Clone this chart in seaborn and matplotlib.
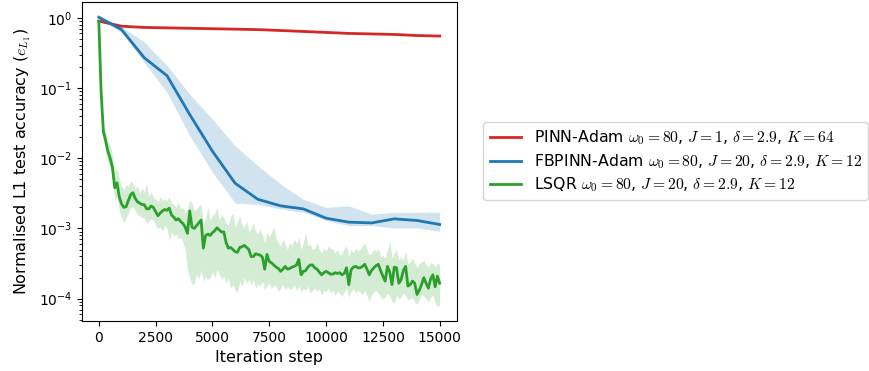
import numpy as np
import matplotlib
matplotlib.use("Agg")
import matplotlib.pyplot as plt
import seaborn as sns

# Iteration steps
coarse_steps = list(range(0, 15001, 1000))
fine_steps = list(range(0, 15001, 100))

# PINN-Adam (mean only, band is negligible)
pinn_mean = [0.90, 0.76, 0.73, 0.72, 0.71, 0.70, 0.69, 0.68, 0.66, 0.64,
             0.62, 0.60, 0.59, 0.58, 0.56, 0.55]

# FBPINN-Adam mean and min/max band
fbpinn_mean = [1.02, 0.68, 0.27, 0.15, 0.042, 0.0126, 0.0044, 0.0026, 0.0021, 0.0019,
               0.0014, 0.00123, 0.0012, 0.00137, 0.0013, 0.00114]
fbpinn_upper = [1.05, 0.75, 0.45, 0.21, 0.082, 0.036, 0.015, 0.0078, 0.0043, 0.0026,
                0.0020, 0.0021, 0.0016, 0.0017, 0.0017, 0.0017]
fbpinn_lower = [0.98, 0.62, 0.23, 0.087, 0.021, 0.0063, 0.0023, 0.0022, 0.0019, 0.0017,
                0.0013, 0.0011, 0.0011, 0.00102, 0.00102, 0.00091]

# LSQR (log10 values, every 100 steps)
lsqr_log_mean = [
    -0.05, -1.05, -1.62, -1.75, -1.90, -2.00, -2.13, -2.42, -2.35, -2.55,
    -2.65, -2.70, -2.69, -2.60, -2.52, -2.49, -2.57, -2.62, -2.64, -2.66,
    -2.66, -2.72, -2.72, -2.68, -2.70, -2.76, -2.82, -2.78, -2.75, -2.73,
    -2.74, -2.71, -2.81, -2.84, -2.88, -2.86, -2.90, -2.93, -2.98, -3.07,
    -2.75, -2.98, -3.00, -2.96, -2.92, -2.88, -3.28, -3.10, -3.08, -3.10,
    -3.06, -3.03, -2.99, -3.02, -3.05, -3.05, -3.20, -3.28, -3.27, -3.30,
    -3.33, -3.34, -3.27, -3.26, -3.24, -3.27, -3.30, -3.40, -3.40, -3.36,
    -3.37, -3.38, -3.41, -3.58, -3.37, -3.47, -3.49, -3.52, -3.55, -3.57,
    -3.61, -3.58, -3.54, -3.58, -3.57, -3.55, -3.54, -3.52, -3.44, -3.66,
    -3.61, -3.60, -3.55, -3.52, -3.52, -3.56, -3.58, -3.62, -3.66, -3.63,
    -3.61, -3.63, -3.65, -3.65, -3.63, -3.64, -3.63, -3.66, -3.64, -3.56,
    -3.80, -3.59, -3.55, -3.54, -3.56, -3.56, -3.54, -3.51, -3.58, -3.66,
    -3.60, -3.56, -3.53, -3.51, -3.60, -3.68, -3.75, -3.54, -3.62, -3.80,
    -3.55, -3.56, -3.78, -3.73, -3.60, -3.54, -3.82, -3.80, -3.75, -3.78,
    -3.94, -3.88, -3.80, -3.70, -3.78, -3.85, -3.72, -3.66, -3.83, -3.68,
    -3.78]
lsqr_log_upper = [
    -0.04, -0.95, -1.50, -1.62, -1.75, -1.82, -1.95, -2.20, -2.15, -2.30,
    -2.40, -2.45, -2.38, -2.40, -2.32, -2.36, -2.45, -2.38, -2.50, -2.42,
    -2.48, -2.36, -2.55, -2.48, -2.56, -2.58, -2.62, -2.55, -2.60, -2.58,
    -2.60, -2.55, -2.63, -2.66, -2.70, -2.62, -2.72, -2.70, -2.78, -2.72,
    -2.60, -2.63, -2.75, -2.72, -2.68, -2.66, -2.95, -2.85, -2.70, -2.88,
    -2.82, -2.78, -2.70, -2.88, -2.80, -2.85, -2.92, -2.95, -2.82, -2.78,
    -2.98, -2.90, -2.82, -2.95, -2.98, -2.90, -3.05, -3.00, -2.92, -3.05,
    -3.08, -3.00, -3.10, -3.20, -3.05, -3.12, -3.05, -2.97, -3.15, -3.20,
    -3.25, -3.15, -3.22, -3.30, -3.20, -3.25, -3.15, -3.22, -3.12, -3.30,
    -3.20, -3.06, -3.25, -3.22, -3.30, -3.28, -3.20, -3.30, -3.35, -3.28,
    -3.32, -3.25, -3.28, -3.30, -3.35, -3.30, -3.38, -3.35, -3.28, -3.25,
    -3.40, -3.30, -3.35, -3.28, -3.32, -3.30, -3.25, -3.20, -3.30, -3.38,
    -3.35, -3.30, -3.32, -3.28, -3.40, -3.38, -3.42, -3.30, -3.18, -3.42,
    -3.35, -3.30, -3.45, -3.40, -3.45, -3.32, -3.50, -3.48, -3.42, -3.50,
    -3.55, -3.50, -3.48, -3.45, -3.52, -3.55, -3.48, -3.50, -3.55, -3.49,
    -3.52]
lsqr_log_lower = [
    -0.06, -1.15, -1.75, -1.90, -2.05, -2.15, -2.30, -2.60, -2.55, -2.75,
    -2.85, -2.92, -2.85, -2.78, -2.70, -2.68, -2.75, -2.80, -2.82, -2.85,
    -2.85, -2.92, -2.90, -2.86, -2.88, -2.95, -3.00, -2.98, -3.04, -2.95,
    -3.00, -3.18, -3.05, -3.10, -3.08, -3.15, -3.12, -3.20, -3.30, -3.59,
    -3.70, -3.80, -3.78, -3.65, -3.72, -3.60, -3.75, -3.68, -3.73, -3.70,
    -3.62, -3.70, -3.58, -3.65, -3.72, -3.68, -3.78, -3.70, -3.85, -3.80,
    -3.88, -3.92, -3.75, -3.82, -3.70, -3.78, -3.72, -3.80, -3.73, -3.85,
    -3.78, -3.82, -3.75, -3.88, -3.82, -3.78, -3.85, -3.80, -3.82, -3.90,
    -3.85, -3.80, -3.88, -3.82, -3.87, -3.85, -3.80, -3.88, -3.82, -3.90,
    -3.85, -3.88, -3.82, -3.92, -3.88, -3.85, -3.90, -3.86, -3.95, -3.88,
    -3.90, -3.85, -3.92, -3.88, -3.95, -3.90, -3.92, -3.97, -3.90, -3.85,
    -3.98, -3.90, -3.85, -3.92, -3.88, -3.90, -3.95, -3.88, -3.96, -4.04,
    -3.95, -3.90, -3.88, -3.92, -3.98, -4.00, -3.98, -3.92, -3.96, -4.04,
    -4.06, -3.95, -4.00, -3.98, -3.92, -3.96, -4.02, -4.00, -3.98, -4.05,
    -4.08, -4.02, -3.93, -3.96, -4.00, -4.05, -3.98, -3.95, -4.06, -4.11,
    -4.10]

labels = [
    r"PINN-Adam $\omega_0=80$, $J=1$, $\delta=2.9$, $K=64$",
    r"FBPINN-Adam $\omega_0=80$, $J=20$, $\delta=2.9$, $K=12$",
    r"LSQR $\omega_0=80$, $J=20$, $\delta=2.9$, $K=12$",
]

plt.rcParams["mathtext.fontset"] = "cm"
plt.rcParams["font.family"] = ["DejaVu Sans"]

fig = plt.figure(figsize=(8.7, 3.71), dpi=100)
ax = fig.add_axes([0.094, 0.135, 0.431, 0.860])

lsqr_mean = 10 ** np.array(lsqr_log_mean)
lsqr_upper = 10 ** np.array(lsqr_log_upper)
lsqr_lower = 10 ** np.array(lsqr_log_lower)

# bands
ax.fill_between(coarse_steps, fbpinn_lower, fbpinn_upper, color="tab:blue", alpha=0.2, lw=0)
ax.fill_between(fine_steps, lsqr_lower, lsqr_upper, color="tab:green", alpha=0.2, lw=0)

# mean lines
sns.lineplot(x=coarse_steps, y=pinn_mean, color="tab:red", lw=2, label=labels[0], ax=ax)
sns.lineplot(x=coarse_steps, y=fbpinn_mean, color="tab:blue", lw=2, label=labels[1], ax=ax)
sns.lineplot(x=fine_steps, y=lsqr_mean, color="tab:green", lw=2, label=labels[2], ax=ax)

ax.set_yscale("log")
ax.set_xlabel("Iteration step", fontsize=11.5)
ax.set_ylabel(r"Normalised L1 test accuracy ($e_{L_1}$)", fontsize=11.5)
ax.tick_params(labelsize=10)
ax.legend(loc="center left", bbox_to_anchor=(1.05, 0.5), fontsize=11.3, labelspacing=0.3)

fig.savefig("out.png", dpi=100)
